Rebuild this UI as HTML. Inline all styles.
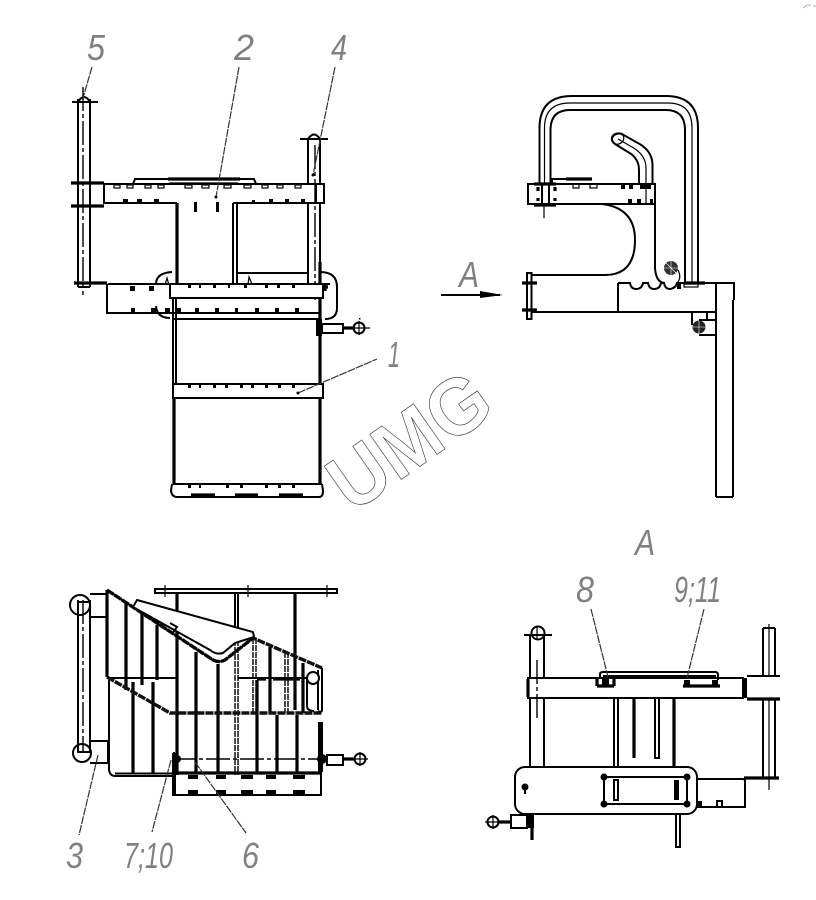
<!DOCTYPE html>
<html><head><meta charset="utf-8"><style>
html,body{margin:0;padding:0;background:#fff;width:816px;height:900px;overflow:hidden}
svg{display:block}
.l{fill:none;stroke:#000;stroke-width:2}
.t{fill:none;stroke:#000;stroke-width:3.2}
.h{fill:none;stroke:#000;stroke-width:1.2}
.w{fill:#fff;stroke:#000;stroke-width:2}
.c{fill:none;stroke:#000;stroke-width:1.4;stroke-dasharray:24 3 4 3}
.k{fill:#000;stroke:none}
.d{fill:none;stroke:#111;stroke-width:1.5;stroke-dasharray:6 1}
.ld{fill:none;stroke:#333;stroke-width:1.2;stroke-dasharray:8 1}
.n{font-family:"Liberation Sans",sans-serif;font-style:italic;font-size:36px;fill:#808080}
</style></head><body>
<svg width="816" height="900" viewBox="0 0 816 900" xmlns="http://www.w3.org/2000/svg">
<path d="M803 8l4-3h4M813 6h4" fill="none" stroke="#aaa" stroke-width="1"/>

<!-- TOP LEFT VIEW -->
<path class="l" d="M156 284Q156 273 172 272M320 272Q337 272 337 287V308Q337 319 325 319M156 306Q157 318 170 318"/>
<path class="l" d="M78 99V287M90 99V287M78 287H90M78 102Q84 92 90 102"/>
<path class="c" d="M83 87V295"/>
<path class="l" d="M72 102H98"/><path class="t" d="M71 183H104M71 206H104M74 283H107"/>
<path class="l" d="M104 184V204M90 183H104"/>
<path class="l" d="M104 184H324V203H233M177 203H104M316 184V203"/>
<path class="l" d="M133 184L135 179H254L256 184"/><path class="t" d="M168 179H240"/><path class="h" d="M169 183H238"/>
<g class="h"><rect x="114" y="185" width="6" height="3"/><rect x="127" y="185" width="6" height="3"/><rect x="145" y="185" width="6" height="3"/><rect x="158" y="185" width="6" height="3"/><rect x="185" y="185" width="7" height="3"/><rect x="202" y="185" width="7" height="3"/><rect x="224" y="185" width="7" height="3"/><rect x="244" y="185" width="7" height="3"/><rect x="262" y="185" width="6" height="3"/><rect x="277" y="185" width="6" height="3"/><rect x="295" y="185" width="6" height="3"/></g>
<g class="k"><rect x="123" y="199" width="5" height="4"/><rect x="137" y="199" width="5" height="4"/><rect x="154" y="199" width="5" height="4"/><rect x="252" y="200" width="3" height="3"/><rect x="269" y="199" width="4" height="4"/><rect x="285" y="199" width="4" height="4"/><rect x="301" y="199" width="4" height="4"/><rect x="194" y="202" width="3" height="10"/><rect x="216" y="202" width="3" height="10"/><rect x="359" y="318" width="1.5" height="1.5"/></g>
<path class="t" d="M177 203V284"/><path class="l" d="M233 203V284M237 203V284M238 273H308"/>
<path class="l" d="M308 184V139Q314 130 320 139V184M308 203V284M320 203V284M300 139H328"/>
<path class="c" d="M315 145V300"/>
<path class="t" d="M320 262V320"/>
<path class="l" d="M108 284H330M107 284V313H173"/>
<rect class="w" x="170" y="284" width="153" height="14"/>
<path class="l" d="M173 313H320M173 319H320"/>
<g class="k"><rect x="130" y="286" width="5" height="5"/><rect x="149" y="286" width="5" height="5"/><rect x="188" y="285" width="3" height="3"/><rect x="199" y="285" width="2" height="3"/><rect x="213" y="285" width="3" height="3"/><rect x="228" y="285" width="2" height="3"/><rect x="244" y="285" width="3" height="3"/><rect x="265" y="285" width="3" height="3"/><rect x="277" y="285" width="3" height="3"/><rect x="292" y="285" width="3" height="3"/><rect x="131" y="308" width="4" height="4"/><rect x="151" y="308" width="5" height="4"/><rect x="177" y="308" width="4" height="5"/><rect x="195" y="308" width="4" height="5"/><rect x="215" y="308" width="4" height="5"/><rect x="235" y="308" width="3" height="5"/><rect x="255" y="308" width="4" height="5"/><rect x="275" y="308" width="4" height="5"/><rect x="295" y="308" width="4" height="5"/><rect x="165" y="308" width="5" height="4"/></g>
<path class="h" d="M165 285L167 278L169 285M248 284L249 277L252 284"/>
<path class="t" d="M322 287H328M325 284V291"/>
<path class="ld" d="M92 67L83 98M239 67L216 197M335 67L313 175"/><circle class="k" cx="216" cy="197" r="1.5"/><circle class="k" cx="313" cy="175" r="1.5"/>

<!-- body -->
<path class="l" d="M173 298V384M176 298V384"/>
<path class="t" d="M320 319V384M174 398V484M320 398V484"/>
<rect class="w" x="173" y="384" width="150" height="14"/>
<path class="l" d="M173 484H322"/>
<path class="l" d="M172 484L171 491Q172 497 177 497H319Q323 497 323 491L322 484"/>
<path class="t" d="M191 495H215M235 495H258M279 495H303"/>
<g class="k"><rect x="188" y="385" width="3" height="3"/><rect x="199" y="385" width="2" height="3"/><rect x="213" y="385" width="3" height="3"/><rect x="225" y="385" width="3" height="3"/><rect x="240" y="385" width="3" height="3"/><rect x="251" y="385" width="3" height="3"/><rect x="265" y="385" width="3" height="3"/><rect x="278" y="385" width="3" height="3"/><rect x="292" y="385" width="3" height="3"/><rect x="188" y="485" width="3" height="3"/><rect x="199" y="485" width="2" height="3"/><rect x="226" y="485" width="3" height="3"/><rect x="240" y="485" width="3" height="3"/><rect x="265" y="485" width="3" height="3"/><rect x="278" y="485" width="3" height="3"/><rect x="292" y="485" width="3" height="3"/><rect x="316" y="319" width="6" height="17"/></g>
<rect class="l" x="322" y="324" width="21" height="9"/>
<path class="t" d="M343 328H355"/><circle class="l" cx="359" cy="328" r="5.5"/><path class="h" d="M353 328H370M359 321V335"/>
<path class="ld" d="M298 393L377 359"/><circle class="k" cx="298" cy="393" r="1.5"/>

<!-- watermark -->
<text transform="translate(352 514) rotate(-35)" x="0" y="0" font-family="Liberation Sans,sans-serif" font-weight="bold" font-size="80" textLength="178" lengthAdjust="spacingAndGlyphs" fill="#fff" stroke="#444" stroke-width="0.7">UMG</text>

<!-- RIGHT VIEW -->
<path class="l" d="M539.5 184V128Q539.5 96 572 96H666Q698 96 698 128V283"/>
<path class="h" d="M544.5 184V128Q544.5 103 570 103H668Q692 103 692 128V283"/>
<path class="l" d="M550.5 184V130Q550.5 110 570 110H666Q685 110 685 130V283"/>
<path class="l" d="M652.5 184V165Q652.5 150 636 142L622 134Q615 132 612 137Q611 141 615 144L628 152Q639 158 639 170V184"/>
<path class="h" d="M646 184V168Q646 155 632 147L618 139"/>
<ellipse class="h" cx="618" cy="139" rx="6" ry="5" transform="rotate(-30 618 139)"/>
<path class="l" d="M528 184H655V204H528Z"/>
<path class="h" d="M646 184V204M544 204V218"/>
<path class="t" d="M534 184H556M534 205H556M538 187V191M538 198V201M555 187V191M555 198V201"/>
<path class="l" d="M552 184V179H592"/><path class="t" d="M566 179H592"/>
<path class="l" d="M542 184V204M549 184V204"/>
<g class="k"><rect x="621" y="185" width="4" height="4"/><rect x="629" y="185" width="4" height="4"/><rect x="640" y="185" width="11" height="4"/><rect x="628" y="199" width="4" height="4"/><rect x="637" y="199" width="4" height="4"/><rect x="650" y="199" width="3" height="4"/></g>
<g class="h"><rect x="573" y="184" width="6" height="4"/><rect x="590" y="184" width="7" height="4"/></g>
<path class="l" d="M602 204Q635 208 635 240Q635 275 605 275H532"/>
<path class="l" d="M532 312H717M618 283V312"/>
<rect class="w" x="527" y="273" width="4.5" height="46"/>
<path class="t" d="M522 283H537M522 310H537"/>
<path class="l" d="M655 204V268Q656 282 664 283"/>
<path class="l" d="M618 283H630Q631 289 636 289Q642 289 643 283H648Q649 289 654 289Q660 289 661 283H664Q665 289 670 289Q676 288 677 283H734V300M716 283V497M733 300V497M716 497H733"/>
<path class="t" d="M684 283H705"/><path class="k" d="M677 284h4v5h-4z"/>
<rect class="h" x="684" y="284" width="14" height="3"/>
<circle cx="671" cy="268" r="7" fill="#333"/><path d="M664 268H678M671 261V275M666 263L676 273" stroke="#fff" stroke-width=".6"/>
<path class="h" d="M678 270Q682 278 677 283"/>
<circle cx="699" cy="327" r="6.5" fill="#222"/><path d="M692 327H706M699 320V334" stroke="#fff" stroke-width=".6"/>
<path class="l" d="M692 312V325M699 335H716M699 320H716M707 312V320"/>
<path class="l" d="M441 295H500"/><path class="k" d="M480 291L503 295L480 298Z"/>

<!-- BOTTOM LEFT VIEW -->
<rect class="l" x="155" y="589" width="182" height="4"/>
<path class="h" d="M165 585V597M248 585V597M327 585V597"/>
<path class="t" d="M177 593V775M295 593V710"/><path class="l" d="M235 593V640M238 593V640"/>
<path class="l" d="M78 600V752M90 600V752M90 594H107M90 617H107M90 741H108V763H90"/>
<path class="c" d="M83 600V752"/>
<circle class="l" cx="80" cy="605" r="10"/><circle class="l" cx="82" cy="753" r="9"/>
<rect x="78" y="602" width="12" height="150" fill="none" stroke="#000" stroke-width="2"/>
<path class="t" d="M107 590V677"/>
<path class="l" d="M109 680V770Q110 776 115 776H172M115 773.5H172"/>
<path class="t" d="M126 603V690M142 614V685M157 625V680M196 652V773M218 664V773M257 680V773M270 647V713M277 715V773M297 715V773M303 663V713M133 682V773M153 682V773"/>
<path class="d" d="M235 640V775M238 640V775M253 638V713M256 638V713M285 652V713M288 652V713"/>
<path class="l" d="M108 678H177M238 678H310"/>
<path class="t" d="M257 679H266M273 679H300"/>
<path d="M107 590L213 660Q219 663 225 660L253 638L322 668" fill="none" stroke="#111" stroke-width="3.4" stroke-dasharray="8 1"/>
<path d="M107 677L170 713H322" fill="none" stroke="#111" stroke-width="3.4" stroke-dasharray="8 1"/>
<path class="w" d="M137 600L253 632L254 637L235 643L223 653Q216 655 210 650L133 607Z"/>
<path class="l" d="M170 623L177 627L172 634"/>
<path class="l" d="M107 590L213 660Q219 663 225 660L253 638"/>
<path class="l" d="M322 668V710Q322 713 318 711M307 707Q308 711 314 711"/>
<path class="l" d="M318 670V710M307 678V707"/><circle class="w" cx="313" cy="678" r="6"/>
<path class="t" d="M175 773H322"/>
<path class="l" d="M173 753V795H322M175 753V795M173 753H175M321 773V795"/>
<g class="k"><rect x="188" y="775" width="10" height="4"/><rect x="216" y="775" width="10" height="4"/><rect x="241" y="775" width="12" height="4"/><rect x="266" y="775" width="10" height="4"/><rect x="293" y="775" width="12" height="4"/><rect x="188" y="790" width="10" height="4"/><rect x="216" y="790" width="10" height="4"/><rect x="241" y="790" width="12" height="4"/><rect x="266" y="790" width="10" height="4"/><rect x="293" y="790" width="12" height="4"/><rect x="318" y="722" width="5" height="50"/><circle cx="322" cy="759" r="5"/><circle cx="177" cy="759" r="4"/></g>
<path class="c" d="M172 759H318"/>
<rect class="l" x="327" y="755" width="16" height="10"/><path class="t" d="M343 759H355"/><circle class="l" cx="360" cy="759" r="5.5"/><path class="h" d="M353 759H368M360 752V766"/>
<path class="ld" d="M98 755L79 835M171 760L152 832M195 762L246 833"/>

<!-- BOTTOM RIGHT VIEW -->
<path class="l" d="M530 635V678M544 635V678M530 698V767M544 698V767M524 635H552"/>
<circle class="l" cx="538" cy="633" r="6.5"/><path class="h" d="M537 626V640"/>
<path class="c" d="M537 660V720"/>
<rect class="l" x="528" y="678" width="215" height="20"/><path class="t" d="M528 679V697"/>
<path class="k" d="M742 678h5v20h-5z"/>
<path class="l" d="M600 678V674Q600 672 603 672H715Q718 672 718 675V680M603 676H716"/>
<path class="t" d="M597 686H614M597 686V677M614 686V677M683 686H720"/>
<path class="k" d="M602 678h7v7h-7zM684 680h6v6h-6zM712 680h6v6h-6z"/>
<path class="l" d="M747 676H780M747 699H780"/><path class="t" d="M747 699H780"/>
<path class="l" d="M763 628V676M775 628V676M763 628H775M763 699V778M775 699V778"/>
<path class="h" d="M769 624V676M769 699V790"/>
<path class="t" d="M744 778H779"/>
<path class="l" d="M614 698V767M618 698V767M655 698V758H659V698"/><path class="t" d="M674 698V767M634 698V758"/>
<rect class="w" x="515" y="767" width="182" height="47" rx="10"/>
<path class="l" d="M604 777H689M604 804H689M604 777V804M687 777V804"/>
<g class="k"><circle cx="604" cy="777" r="3.5"/><circle cx="604" cy="804" r="3.5"/><circle cx="687" cy="777" r="3.5"/><circle cx="687" cy="804" r="3.5"/><rect x="674" y="780" width="5" height="20"/><circle cx="525" cy="787" r="3.5"/><rect x="524" y="787" width="2" height="7"/><rect x="697" y="801" width="5" height="6"/></g>
<rect class="l" x="614" y="780" width="4" height="20"/>
<path class="l" d="M697 779H743Q745 779 745 781V807H697"/><rect class="l" x="717" y="801" width="5" height="6"/>
<path class="l" d="M676 814V847H680V814"/>
<circle class="l" cx="493" cy="822" r="5.5"/><path class="h" d="M485 822H500M493 815V829"/><path class="t" d="M498 822H511"/>
<rect class="l" x="511" y="815" width="16" height="13"/><path class="k" d="M528 814h6v14h-6z"/><path class="t" d="M532 826V840"/>
<path class="ld" d="M591 609L608 677M704 609L687 678"/>

<!-- labels -->
<text class="n" x="87" y="60" textLength="18" lengthAdjust="spacingAndGlyphs">5</text>
<text class="n" x="234" y="60" textLength="20" lengthAdjust="spacingAndGlyphs">2</text>
<text class="n" x="331" y="60" textLength="16" lengthAdjust="spacingAndGlyphs">4</text>
<text class="n" x="388" y="367" textLength="12" lengthAdjust="spacingAndGlyphs">1</text>
<text class="n" x="459" y="287" textLength="20" lengthAdjust="spacingAndGlyphs">A</text>
<text class="n" x="635" y="555" textLength="20" lengthAdjust="spacingAndGlyphs">A</text>
<text class="n" x="576" y="602" textLength="18" lengthAdjust="spacingAndGlyphs">8</text>
<text class="n" x="674" y="602" textLength="47" lengthAdjust="spacingAndGlyphs">9;11</text>
<text class="n" x="66" y="868" textLength="17" lengthAdjust="spacingAndGlyphs">3</text>
<text class="n" x="124" y="868" textLength="49" lengthAdjust="spacingAndGlyphs">7;10</text>
<text class="n" x="242" y="868" textLength="17" lengthAdjust="spacingAndGlyphs">6</text>
</svg>
</body></html>
